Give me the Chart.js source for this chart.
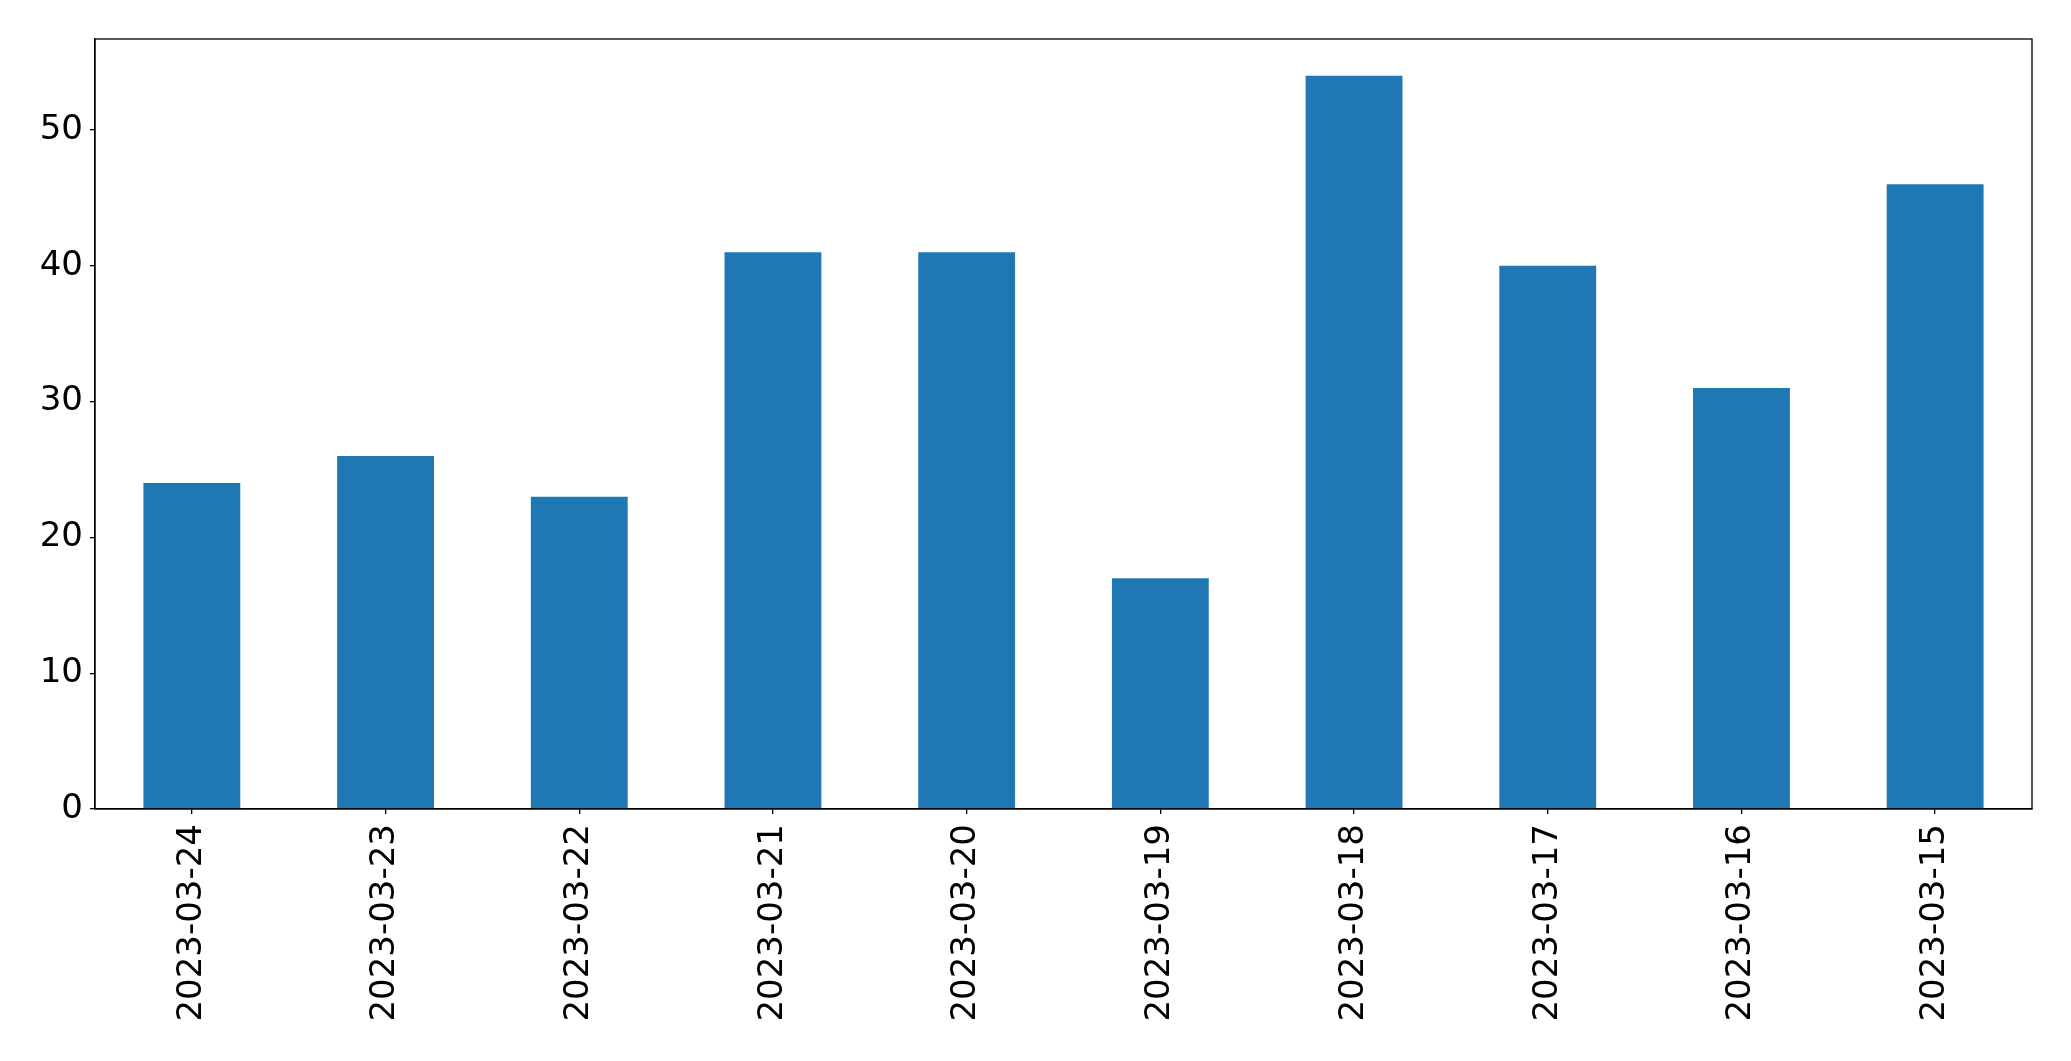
<!DOCTYPE html>
<html>
<head>
<meta charset="utf-8">
<script src="https://cdn.jsdelivr.net/npm/chart.js@4/dist/chart.umd.min.js"></script>
<style>
  html, body { margin: 0; padding: 0; background: #ffffff; }
  #wrap { width: 2071px; height: 1061px; position: relative; }
</style>
</head>
<body>
<div id="wrap"><canvas id="c" width="2071" height="1061"></canvas></div>
<script>
const categories = ["2023-03-24", "2023-03-23", "2023-03-22", "2023-03-21", "2023-03-20",
                    "2023-03-19", "2023-03-18", "2023-03-17", "2023-03-16", "2023-03-15"];
const values = [24, 26, 23, 41, 41, 17, 54, 40, 31, 46];
const yTicks = [0, 10, 20, 30, 40, 50];

const frame = {
  id: 'frame',
  afterDraw(chart) {
    const a = chart.chartArea, ctx = chart.ctx;
    ctx.save();
    ctx.strokeStyle = '#000';
    ctx.lineWidth = 1.3;
    ctx.strokeRect(a.left, a.top, a.right - a.left, a.bottom - a.top);
    ctx.restore();
  }
};

new Chart(document.getElementById('c'), {
  type: 'bar',
  data: {
    labels: categories,
    datasets: [{
      data: values,
      backgroundColor: '#1f77b4',
      borderWidth: 0,
      barPercentage: 0.5,
      categoryPercentage: 1.0
    }]
  },
  options: {
    responsive: false,
    animation: false,
    devicePixelRatio: 1,
    layout: { padding: { left: 0, right: 39, top: 39, bottom: 0 } },
    plugins: { legend: { display: false }, tooltip: { enabled: false } },
    scales: {
      x: {
        offset: true,
        grid: { display: true, offset: false, drawOnChartArea: false, drawTicks: true, tickLength: 5, color: '#000', lineWidth: 1.3 },
        border: { display: true, color: '#000', width: 1.3 },
        ticks: {
          color: '#000',
          font: { family: 'DejaVu Sans', size: 34 },
          minRotation: 90, maxRotation: 90,
          padding: 10,
          autoSkip: false
        },
        afterFit(s) { s.height = 1061 - 809; }
      },
      y: {
        min: 0,
        max: Math.max(...values) * 1.05,
        grid: { display: true, drawOnChartArea: false, drawTicks: true, tickLength: 5, color: '#000', lineWidth: 1.3 },
        border: { display: true, color: '#000', width: 1.3 },
        afterBuildTicks(s) { s.ticks = yTicks.map(v => ({ value: v })); },
        ticks: {
          color: '#000',
          font: { family: 'DejaVu Sans', size: 34 },
          padding: 7
        },
        afterFit(s) { s.width = 95; }
      }
    }
  },
  plugins: [frame]
});
</script>
</body>
</html>
